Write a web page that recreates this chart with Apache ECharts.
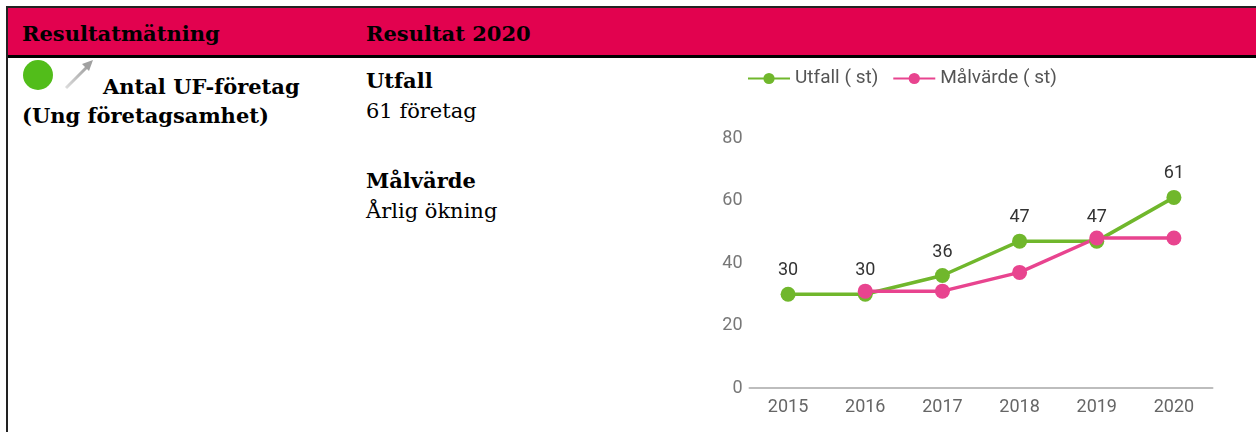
<!DOCTYPE html>
<html>
<head>
<meta charset="utf-8">
<script src="https://cdn.jsdelivr.net/npm/echarts@6/dist/echarts.min.js"></script>
<style>
body{margin:0;background:#fff;width:1256px;height:432px;overflow:hidden;position:relative}
.t{position:absolute;font-family:"DejaVu Serif",serif;font-size:21px;line-height:21px;color:#000;white-space:nowrap}
.b{font-weight:bold}
#head{position:absolute;left:6px;top:6px;width:1250px;height:47px;background:#e2024f;border-top:2px solid #222;border-bottom:3px solid #000}
#lborder{position:absolute;left:6px;top:6px;width:2px;height:426px;background:#222}
#dot{position:absolute;left:23px;top:60px;width:30px;height:30px;border-radius:50%;background:#52bd1a}
#chart{position:absolute;left:700px;top:57px;width:556px;height:375px}
</style>
</head>
<body>
<div id="head"></div>
<div id="lborder"></div>
<div class="t b" style="left:22px;top:23px">Resultatmätning</div>
<div class="t b" style="left:366px;top:23px">Resultat 2020</div>
<div id="dot"></div>
<svg style="position:absolute;left:60px;top:58px" width="40" height="36">
  <defs><linearGradient id="ag" x1="0" y1="1" x2="1" y2="0"><stop offset="0" stop-color="#dcdcdc"/><stop offset="1" stop-color="#a0a0a0"/></linearGradient></defs>
  <line x1="6" y1="30" x2="28" y2="8" stroke="url(#ag)" stroke-width="3"/>
  <polygon points="33,2 22,6 29,13" fill="#a0a0a0"/>
</svg>
<div class="t b" style="left:103px;top:76px">Antal UF-företag</div>
<div class="t b" style="left:22px;top:105px">(Ung företagsamhet)</div>
<div class="t b" style="left:366px;top:70px">Utfall</div>
<div class="t" style="left:366px;top:101px">61 företag</div>
<div class="t b" style="left:366px;top:170px">Målvärde</div>
<div class="t" style="left:366px;top:201px">Årlig ökning</div>
<div id="chart"></div>
<script>
var years = ['2015','2016','2017','2018','2019','2020']
var utfall = [30, 30, 36, 47, 47, 61]
var malvarde = ['-', 31, 31, 37, 48, 48]
var yTicks = {min: 0, max: 80, step: 20}

var myChart = echarts.init(document.getElementById('chart'))
var option = {
    animation: false,
    color: ['#70b72c', '#e8448f'],
    legend: {
        left: 42,
        top: 7,
        itemWidth: 42,
        itemHeight: 14,
        itemGap: 14,
        textStyle: {fontFamily: 'Roboto', fontSize: 19, color: '#555'},
        data: ['Utfall ( st)', 'Målvärde ( st)']
    },
    grid: {left: 49.5, right: 43.5, top: 81, bottom: 44, containLabel: false},
    xAxis: {
        type: 'category',
        data: years,
        boundaryGap: true,
        axisLine: {lineStyle: {color: '#bdbdbd', width: 2}},
        axisTick: {show: false},
        axisLabel: {fontFamily: 'Roboto', fontSize: 18, color: '#666', margin: 10}
    },
    yAxis: {
        type: 'value',
        min: yTicks.min,
        max: yTicks.max,
        interval: yTicks.step,
        axisLine: {show: false},
        axisTick: {show: false},
        splitLine: {show: false},
        axisLabel: {fontFamily: 'Roboto', fontSize: 18, color: '#777', margin: 7}
    },
    series: [
        {
            name: 'Utfall ( st)',
            type: 'line',
            data: utfall,
            symbol: 'circle',
            symbolSize: 15,
            lineStyle: {width: 3.5},
            label: {show: true, position: 'top', distance: 7, fontFamily: 'Roboto', fontSize: 18, color: '#333'}
        },
        {
            name: 'Målvärde ( st)',
            type: 'line',
            data: malvarde,
            symbol: 'circle',
            symbolSize: 15,
            lineStyle: {width: 3.5}
        }
    ]
}
myChart.setOption(option)
</script>
</body>
</html>
